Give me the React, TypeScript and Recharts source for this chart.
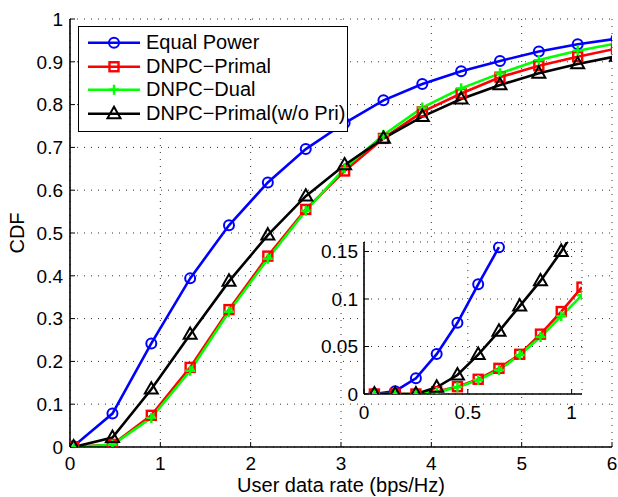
import React from 'react';
import { LineChart, Line, XAxis, YAxis, CartesianGrid, Legend, Label } from 'recharts';

// ---- main plot data ----
const rateX = [0.04, 0.47, 0.9, 1.33, 1.76, 2.19, 2.61, 3.04, 3.47, 3.9, 4.33, 4.76, 5.19, 5.62, 6.05];
const equalPower = [0.002, 0.078, 0.242, 0.394, 0.518, 0.618, 0.696, 0.757, 0.81, 0.848, 0.878, 0.902, 0.924, 0.941, 0.954];
const dnpcPrimal = [0, 0.006, 0.074, 0.186, 0.321, 0.446, 0.555, 0.645, 0.721, 0.783, 0.826, 0.864, 0.891, 0.912, 0.931];
const dnpcDual = [0, 0.005, 0.068, 0.178, 0.316, 0.44, 0.552, 0.651, 0.729, 0.793, 0.838, 0.873, 0.904, 0.926, 0.943];
const dnpcNoPri = [0, 0.022, 0.135, 0.263, 0.387, 0.495, 0.586, 0.659, 0.721, 0.772, 0.813, 0.846, 0.873, 0.895, 0.913];

const mainXTicks = [0, 1, 2, 3, 4, 5, 6];
const mainYTicks = [0, 0.1, 0.2, 0.3, 0.4, 0.5, 0.6, 0.7, 0.8, 0.9, 1];

// ---- inset data ----
const insetX = [0.05, 0.15, 0.25, 0.35, 0.45, 0.55, 0.65, 0.75, 0.85, 0.95, 1.05];
const insetEqual = [0, 0.003, 0.0165, 0.042, 0.075, 0.1155, 0.1545, null, null, null, null];
const insetPrimal = [0, 0, 0, 0.0025, 0.0077, 0.0155, 0.027, 0.0418, 0.063, 0.0868, 0.1125];
const insetDual = [0, 0, 0, 0.002, 0.0072, 0.0148, 0.0253, 0.041, 0.06, 0.082, 0.104];
const insetNoPri = [0, 0, 0, 0.007, 0.02, 0.0415, 0.066, 0.0925, 0.119, 0.15, 0.185];

const insetXTicks = [0, 0.5, 1];
const insetYTicks = [0, 0.05, 0.1, 0.15];

const seriesNames = ['Equal Power', 'DNPC\u2212Primal', 'DNPC\u2212Dual', 'DNPC\u2212Primal(w/o Pri)'];

const mainData = rateX.map((x, i) => ({
  x,
  a: equalPower[i],
  b: dnpcPrimal[i],
  c: dnpcDual[i],
  d: dnpcNoPri[i],
}));

const insetData = insetX.map((x, i) => ({
  x,
  a: insetEqual[i],
  b: insetPrimal[i],
  c: insetDual[i],
  d: insetNoPri[i],
}));

const FONT = '"Liberation Sans", Arial, Helvetica, sans-serif';
const COLORS = ['#0000ff', '#ff0000', '#00ff00', '#000000'];
const KINDS = ['circle', 'square', 'plus', 'triangle'];
const LINE_W = 2.6;

function Marker({ kind, cx, cy, color }: { kind: string; cx: number; cy: number; color: string }) {
  if (kind === 'circle') {
    return <circle cx={cx} cy={cy} r={5} fill="none" stroke={color} strokeWidth={2} />;
  }
  if (kind === 'square') {
    return <rect x={cx - 4.5} y={cy - 4.5} width={9} height={9} fill="none" stroke={color} strokeWidth={2.4} />;
  }
  if (kind === 'plus') {
    return (
      <path d={`M${cx - 5},${cy}H${cx + 5}M${cx},${cy - 5}V${cy + 5}`} stroke={color} strokeWidth={2.4} fill="none" />
    );
  }
  return (
    <path d={`M${cx},${cy - 7}L${cx + 6.5},${cy + 4.4}L${cx - 6.5},${cy + 4.4}Z`} fill="none" stroke={color} strokeWidth={2} />
  );
}

const makeDot = (kind: string, color: string) => (props: any) => {
  const { cx, cy, index, value } = props;
  const k = `${kind}-${index}`;
  if (cx == null || cy == null || value == null || Number.isNaN(cx) || Number.isNaN(cy)) return <g key={k} />;
  return (
    <g key={k}>
      <Marker kind={kind} cx={cx} cy={cy} color={color} />
    </g>
  );
};

function LegendBox() {
  return (
    <div
      style={{
        width: 268,
        height: 100,
        border: '1.3px solid #000',
        background: '#fff',
        boxSizing: 'content-box',
        paddingTop: 4,
        fontFamily: FONT,
        fontSize: 20,
        color: '#000',
      }}
    >
      {seriesNames.map((name, i) => (
        <div key={name} style={{ height: 23.5, display: 'flex', alignItems: 'center', whiteSpace: 'nowrap' }}>
          <svg width={61} height={23.5} style={{ marginLeft: 6, flex: 'none' }}>
            <line x1={3} x2={55} y1={11.75} y2={11.75} stroke={COLORS[i]} strokeWidth={LINE_W} />
            <Marker kind={KINDS[i]} cx={29} cy={11.75} color={COLORS[i]} />
          </svg>
          <span style={{ lineHeight: '23.5px' }}>{name}</span>
        </div>
      ))}
    </div>
  );
}

const axisLine = { stroke: '#000', strokeWidth: 1.6 };
const tickStyle = { fill: '#000', fontSize: 19, fontFamily: FONT };
const gridStroke = '#333';
const gridDash = '1 6';

function InsetChart() {
  return (
    <LineChart width={300} height={200} data={insetData} margin={{ top: 12, right: 18, bottom: 0, left: 0 }}>
      <CartesianGrid fill="#ffffff" stroke={gridStroke} strokeDasharray={gridDash} />
      <XAxis
        type="number"
        dataKey="x"
        domain={[0, 1.05]}
        allowDataOverflow
        ticks={insetXTicks}
        height={36}
        tickSize={-5}
        tickMargin={17}
        axisLine={axisLine}
        tickLine={{ stroke: '#000' }}
        tick={tickStyle}
        interval={0}
      />
      <YAxis
        type="number"
        domain={[0, 0.16]}
        allowDataOverflow
        ticks={insetYTicks}
        width={64}
        tickSize={-5}
        tickMargin={11}
        axisLine={axisLine}
        tickLine={{ stroke: '#000' }}
        tick={tickStyle}
        interval={0}
      />
      <XAxis
        xAxisId="top"
        orientation="top"
        type="number"
        dataKey="x"
        domain={[0, 1.05]}
        allowDataOverflow
        ticks={insetXTicks}
        height={0}
        mirror
        tick={false}
        tickSize={5}
        axisLine={axisLine}
        tickLine={{ stroke: '#000' }}
      />
      <YAxis
        yAxisId="right"
        orientation="right"
        type="number"
        domain={[0, 0.16]}
        allowDataOverflow
        ticks={insetYTicks}
        width={0}
        mirror
        tick={false}
        tickSize={5}
        axisLine={axisLine}
        tickLine={{ stroke: '#000' }}
      />
      <Line xAxisId="top" yAxisId="right" dataKey="b" stroke="none" dot={false} activeDot={false} legendType="none" isAnimationActive={false} />
      {['a', 'b', 'c', 'd'].map((k, i) => (
        <Line
          key={k}
          dataKey={k}
          stroke={COLORS[i]}
          strokeWidth={LINE_W}
          dot={makeDot(KINDS[i], COLORS[i])}
          activeDot={false}
          isAnimationActive={false}
          connectNulls={false}
        />
      ))}
    </LineChart>
  );
}

export default function App() {
  return (
    <div style={{ position: 'absolute', left: 0, top: 0, width: 618, height: 497, background: '#fff' }}>
      <LineChart width={618} height={497} data={mainData} margin={{ top: 19, right: 6, bottom: 0, left: 0 }}>
        <CartesianGrid stroke={gridStroke} strokeDasharray={gridDash} />
        <XAxis
          type="number"
          dataKey="x"
          domain={[0, 6]}
          allowDataOverflow
          ticks={mainXTicks}
          height={50}
          tickSize={-5}
          tickMargin={15}
          axisLine={axisLine}
          tickLine={{ stroke: '#000' }}
          tick={tickStyle}
          interval={0}
        >
          <Label value="User data rate (bps/Hz)" position="insideBottom" offset={5} style={{ fontSize: 20, fontFamily: FONT, fill: '#000' }} />
        </XAxis>
        <YAxis
          type="number"
          domain={[0, 1]}
          allowDataOverflow
          ticks={mainYTicks}
          width={70}
          tickSize={-5}
          tickMargin={12}
          axisLine={axisLine}
          tickLine={{ stroke: '#000' }}
          tick={tickStyle}
          interval={0}
        >
          <Label value="CDF" angle={-90} position="insideLeft" offset={17} style={{ textAnchor: 'middle', fontSize: 20, fontFamily: FONT, fill: '#000' }} />
        </YAxis>
        <XAxis
          xAxisId="top"
          orientation="top"
          type="number"
          dataKey="x"
          domain={[0, 6]}
          allowDataOverflow
          ticks={mainXTicks}
          height={0}
          mirror
          tick={false}
          tickSize={5}
          axisLine={axisLine}
          tickLine={{ stroke: '#000' }}
        />
        <YAxis
          yAxisId="right"
          orientation="right"
          type="number"
          domain={[0, 1]}
          allowDataOverflow
          ticks={mainYTicks}
          width={0}
          mirror
          tick={false}
          tickSize={5}
          axisLine={axisLine}
          tickLine={{ stroke: '#000' }}
        />
        <Line xAxisId="top" yAxisId="right" dataKey="b" stroke="none" dot={false} activeDot={false} legendType="none" isAnimationActive={false} />
        {['a', 'b', 'c', 'd'].map((k, i) => (
          <Line
            key={k}
            dataKey={k}
            name={seriesNames[i]}
            stroke={COLORS[i]}
            strokeWidth={LINE_W}
            dot={makeDot(KINDS[i], COLORS[i])}
            activeDot={false}
            isAnimationActive={false}
          />
        ))}
        <Legend
          layout="vertical"
          align="center"
          verticalAlign="middle"
          content={() => <LegendBox />}
          wrapperStyle={{ left: 78, top: 26, width: 272, height: 106 }}
        />
      </LineChart>
      <div style={{ position: 'absolute', left: 300, top: 230, width: 300, height: 200 }}>
        <InsetChart />
      </div>
    </div>
  );
}
